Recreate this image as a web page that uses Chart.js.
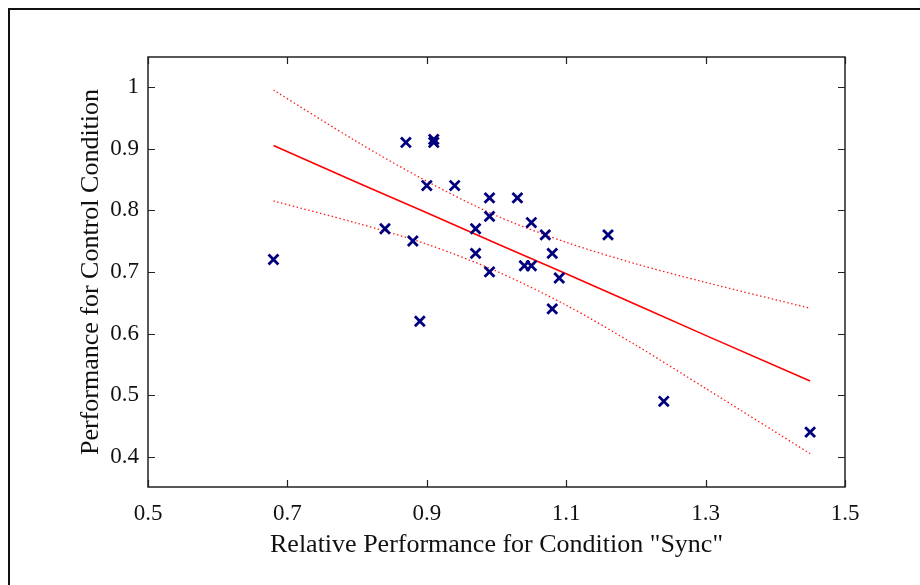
<!DOCTYPE html>
<html>
<head>
<meta charset="utf-8">
<script src="https://cdn.jsdelivr.net/npm/chart.js@4.4.1/dist/chart.umd.min.js"></script>
<style>
    html, body { margin: 0; padding: 0; background: #fff; overflow: hidden; }
    #moldura { position: absolute; left: 8px; top: 8px; width: 1000px; height: 700px; border: 2px solid #111; box-sizing: border-box; }
    #area { position: absolute; left: 0; top: 0; width: 920px; height: 585px; }
</style>
</head>
<body>
<div id="moldura"></div>
<div id="area"><canvas id="grafico" width="920" height="585"></canvas></div>
<script>
// pontos medidos (x = desempenho relativo "Sync", y = desempenho controle)
const sincX = [0.68, 0.84, 0.87, 0.88, 0.89, 0.90, 0.91, 0.91, 0.94, 0.97, 0.97, 0.99, 0.99, 0.99, 1.03, 1.04, 1.05, 1.05, 1.07, 1.08, 1.08, 1.09, 1.16, 1.24, 1.45];
const controleY = [0.72, 0.77, 0.91, 0.75, 0.62, 0.84, 0.915, 0.91, 0.84, 0.77, 0.73, 0.82, 0.79, 0.70, 0.82, 0.71, 0.71, 0.78, 0.76, 0.73, 0.64, 0.69, 0.76, 0.49, 0.44];

// reta de regressão e limites de confiança
const ajusteX = [0.68, 0.80, 0.90, 1.00, 1.10, 1.20, 1.30, 1.45];
const ajusteY = [0.905, 0.845, 0.796, 0.746, 0.697, 0.647, 0.597, 0.523];
const limiteSup = [0.995, 0.911, 0.847, 0.791, 0.748, 0.713, 0.683, 0.641];
const limiteInf = [0.815, 0.779, 0.745, 0.701, 0.646, 0.581, 0.511, 0.405];

const ticksX = [0.5, 0.7, 0.9, 1.1, 1.3, 1.5];
const ticksY = [0.4, 0.5, 0.6, 0.7, 0.8, 0.9, 1];

function pares(xs, ys) {
    return xs.map((x, i) => ({ x: x, y: ys[i] }));
}

// ticks para dentro nos quatro lados, estilo matlab
const caixaPlugin = {
    id: 'caixa',
    afterDraw(chart) {
        const ctx = chart.ctx;
        const a = chart.chartArea;
        const sx = chart.scales.x;
        const sy = chart.scales.y;
        const tam = 7;
        ctx.save();
        ctx.strokeStyle = '#222';
        ctx.lineWidth = 1.5;
        ctx.strokeRect(a.left, a.top, a.right - a.left, a.bottom - a.top);
        ctx.lineWidth = 1.2;
        ctx.beginPath();
        ticksX.forEach(v => {
            const px = Math.round(sx.getPixelForValue(v)) + 0.5;
            ctx.moveTo(px, a.bottom); ctx.lineTo(px, a.bottom - tam);
            ctx.moveTo(px, a.top); ctx.lineTo(px, a.top + tam);
        });
        ticksY.forEach(v => {
            const py = Math.round(sy.getPixelForValue(v)) + 0.5;
            ctx.moveTo(a.left, py); ctx.lineTo(a.left + tam, py);
            ctx.moveTo(a.right, py); ctx.lineTo(a.right - tam, py);
        });
        ctx.stroke();
        ctx.restore();
    }
};

const fonte = 'Liberation Serif';

new Chart(document.getElementById('grafico'), {
    type: 'scatter',
    data: {
        datasets: [
            { data: pares(ajusteX, ajusteY), showLine: true, borderColor: '#ff0000', borderWidth: 1.6, pointRadius: 0, order: 2 },
            { data: pares(ajusteX, limiteSup), showLine: true, borderColor: '#ff1a1a', borderWidth: 1.3, borderDash: [1.5, 2.5], pointRadius: 0, tension: 0.3, order: 2 },
            { data: pares(ajusteX, limiteInf), showLine: true, borderColor: '#ff1a1a', borderWidth: 1.3, borderDash: [1.5, 2.5], pointRadius: 0, tension: 0.3, order: 2 },
            { data: pares(sincX, controleY), pointStyle: 'crossRot', pointRadius: 7, borderColor: '#00007f', pointBorderWidth: 2.8, backgroundColor: '#00007f', order: 1 }
        ]
    },
    options: {
        responsive: false,
        animation: false,
        layout: { padding: { top: 57, right: 75, left: 0, bottom: 0 } },
        plugins: { legend: { display: false }, tooltip: { enabled: false } },
        scales: {
            x: {
                type: 'linear', min: 0.5, max: 1.5,
                afterBuildTicks: s => { s.ticks = ticksX.map(v => ({ value: v })); },
                afterFit: s => { s.height = 98; },
                grid: { display: false, drawTicks: false },
                border: { display: false },
                ticks: { padding: 13, color: '#111', font: { family: fonte, size: 23 }, callback: v => String(v) },
                title: { display: true, text: 'Relative Performance for Condition "Sync"', color: '#111', font: { family: fonte, size: 26 }, padding: { top: 0, bottom: 24 } }
            },
            y: {
                type: 'linear', min: 0.351, max: 1.0486,
                afterBuildTicks: s => { s.ticks = ticksY.map(v => ({ value: v })); },
                afterFit: s => { s.width = 148; },
                grid: { display: false, drawTicks: false },
                border: { display: false },
                ticks: { padding: 9, color: '#111', font: { family: fonte, size: 23 }, callback: v => String(v) },
                title: { display: true, text: 'Performance for Control Condition', color: '#111', font: { family: fonte, size: 26 }, padding: { top: 76, bottom: 0 } }
            }
        }
    },
    plugins: [caixaPlugin]
});
</script>
</body>
</html>
